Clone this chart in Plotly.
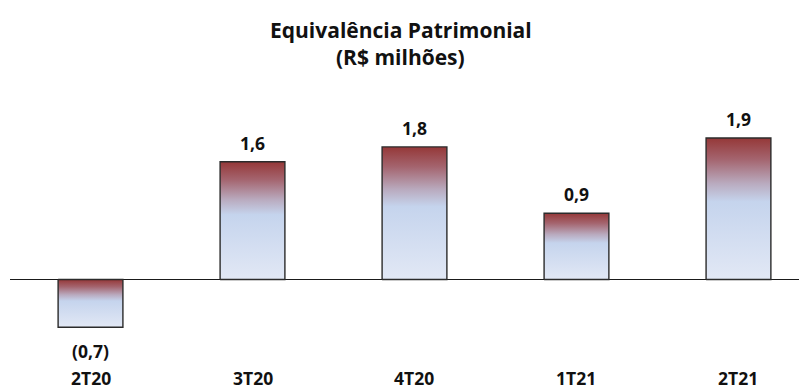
import plotly.graph_objects as go

categories = ["2T20", "3T20", "4T20", "1T21", "2T21"]
values = [-0.64, 1.58, 1.78, 0.89, 1.90]
value_labels = ["(0,7)", "1,6", "1,8", "0,9", "1,9"]

title_lines = ["Equivalência Patrimonial", "(R$ milhões)"]

FONT = "Open Sans"
W, H = 799, 382          # page body has an 8px margin
L = 2
half_w = 0.2
gradient = [
    [0.0, "#e2e8f5"],
    [0.55, "#c5d4ed"],
    [0.68, "#b9aabe"],
    [0.85, "#a4646e"],
    [1.0, "#953838"],
]

fig = go.Figure()
for i, (cat, v) in enumerate(zip(categories, values)):
    xs = [i - half_w, i + half_w, i + half_w, i - half_w, i - half_w]
    ys = [0, 0, v, v, 0]
    fig.add_trace(go.Scatter(
        x=xs, y=ys, mode="lines", fill="toself",
        fillgradient=dict(type="vertical", colorscale=gradient),
        line=dict(color="#2b2b2b", width=1.4),
        hoverinfo="skip", showlegend=False, name=cat,
    ))

for i, (v, lab) in enumerate(zip(values, value_labels)):
    fig.add_annotation(x=i, y=v, text="<b>%s</b>" % lab, showarrow=False,
                       yanchor="middle", yshift=19 if v >= 0 else -24,
                       font=dict(family=FONT, size=17.5, color="#111"))

for i, cat in enumerate(categories):
    fig.add_annotation(x=i, y=0, text="<b>%s</b>" % cat, showarrow=False,
                       yanchor="middle", yshift=-98,
                       font=dict(family=FONT, size=17.5, color="#111"))

tx = (392.5 - L) / (W - L)
for line, yc in zip(title_lines, [22, 49]):
    fig.add_annotation(xref="paper", yref="paper", x=tx, y=1 - yc / H,
                       text="<b>%s</b>" % line, showarrow=False,
                       yanchor="middle", font=dict(family=FONT, size=21, color="#111"))

fig.update_layout(
    width=W, height=H,
    margin=dict(l=L, r=0, t=0, b=0),
    paper_bgcolor="white", plot_bgcolor="white",
    xaxis=dict(range=[-0.497, 4.423], showgrid=False, zeroline=False,
               showticklabels=False, showline=False, fixedrange=True),
    yaxis=dict(range=[-(H - 271.5) / 74.5, 271.5 / 74.5], showgrid=False,
               zeroline=True, zerolinecolor="#1a1a1a", zerolinewidth=1.3,
               showticklabels=False, showline=False, fixedrange=True),
    showlegend=False,
)

fig.write_html("out.html")
